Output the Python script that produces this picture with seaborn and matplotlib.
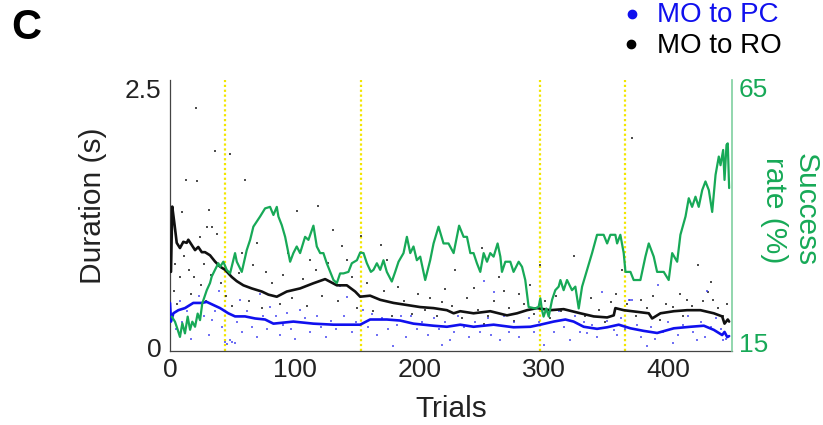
import matplotlib
matplotlib.use('Agg')
import matplotlib.pyplot as plt
import seaborn as sns
from matplotlib.lines import Line2D

sns.set_style('white')
plt.rcParams['font.family'] = ['Liberation Sans', 'DejaVu Sans']

# ---------------- data ----------------
xticks = [0, 100, 200, 300, 400]
left_ticks = [0, 2.5]
left_labels = ['0', '2.5']
right_ticks = [15, 65]
right_labels = ['15', '65']
yellow_t = [44, 153, 297, 365]

green_t = [1.4, 4.0, 6.2, 8.0, 9.9, 12.0, 14.2, 16.1, 17.9, 20.1,
           22.2, 24.1, 25.9, 29.5, 32.1, 33.5, 36.1, 38.8, 40.2, 42.8,
           45.5, 48.2, 50.8, 52.2, 53.6, 57.6, 61.6, 64.3, 66.9, 72.3,
           76.3, 80.3, 83.0, 85.7, 87.0, 89.7, 92.4, 96.4, 99.0, 101.7,
           104.4, 108.4, 111.1, 115.1, 117.8, 120.5, 123.1, 125.8, 131.2, 133.9,
           136.5, 139.2, 143.2, 145.9, 150.0, 152.6, 155.3, 158.0, 161.2, 163.3,
           166.0, 168.7, 171.3, 174.0, 178.0, 180.7, 183.4, 187.4, 190.1, 192.8,
           195.4, 198.1, 200.8, 204.8, 208.8, 211.5, 215.5, 219.5, 223.5, 227.6,
           232.0, 235.6, 238.3, 241.0, 243.6, 246.3, 249.0, 251.7, 254.4, 257.0,
           259.7, 262.9, 265.1, 266.4, 269.1, 273.1, 275.7, 279.8, 282.5, 285.1,
           287.8, 293.2, 295.8, 297.2, 298.5, 299.8, 302.0, 303.9, 306.6, 309.2,
           311.9, 313.3, 315.9, 318.6, 322.6, 325.3, 328.0, 330.7, 334.7, 338.7,
           342.7, 348.0, 350.8, 353.4, 357.4, 358.8, 361.4, 364.1, 365.5, 369.5,
           372.1, 377.5, 381.5, 384.2, 388.2, 390.9, 396.2, 400.2, 403.0, 407.0,
           409.6, 413.7, 416.3, 419.0, 421.7, 424.3, 427.1, 429.7, 432.4, 435.1,
           437.8, 440.4, 441.8, 443.9, 445.0, 446.6, 447.6, 448.7]
green_p = [20.0, 19.0, 17.4, 16.0, 18.7, 16.7, 20.0, 17.4, 19.0, 18.0,
           20.6, 19.3, 22.6, 25.2, 26.6, 27.9, 29.2, 30.5, 29.8, 30.8,
           29.2, 28.5, 31.1, 32.5, 30.8, 28.8, 33.1, 35.1, 37.7, 39.7,
           41.3, 41.6, 40.0, 41.6, 39.7, 38.0, 35.7, 30.8, 32.5, 33.8,
           32.5, 35.7, 35.1, 37.9, 33.8, 32.5, 32.5, 30.5, 27.2, 26.6,
           28.5, 28.5, 28.8, 30.5, 31.1, 32.6, 32.5, 30.5, 28.8, 29.2,
           30.5, 29.2, 31.1, 28.8, 26.9, 28.8, 30.8, 32.5, 35.7, 32.5,
           33.8, 31.1, 31.8, 27.2, 31.1, 34.4, 37.7, 34.4, 34.4, 32.5,
           37.9, 35.7, 35.7, 32.5, 32.5, 30.5, 28.8, 32.5, 30.8, 32.5,
           31.8, 34.4, 31.8, 28.8, 30.8, 30.8, 28.8, 30.8, 29.8, 27.2,
           21.9, 21.6, 21.9, 23.6, 21.3, 20.0, 21.6, 20.0, 23.3, 25.2,
           25.9, 27.2, 25.2, 27.2, 25.2, 25.9, 21.6, 25.9, 29.2, 32.5,
           36.1, 36.1, 34.4, 36.1, 36.1, 34.4, 36.1, 32.5, 28.8, 28.8,
           27.2, 27.2, 31.8, 34.4, 31.8, 28.8, 28.8, 27.2, 32.5, 30.8,
           36.1, 39.7, 43.3, 41.6, 43.6, 41.6, 44.9, 46.6, 44.9, 40.6,
           47.9, 51.5, 49.8, 52.8, 46.9, 53.8, 54.1, 45.3]

black_t = [0.8, 1.8, 3.5, 5.4, 8.0, 10.7, 13.4, 14.7, 17.4, 20.1,
           22.7, 25.5, 28.1, 32.1, 36.1, 40.2, 44.2, 49.6, 53.6, 58.9,
           65.6, 73.7, 79.0, 85.7, 93.7, 104.4, 115.1, 124.5, 133.9, 141.9,
           148.6, 152.6, 160.6, 168.7, 179.4, 190.1, 200.8, 211.5, 222.2, 227.6,
           232.9, 243.6, 257.0, 270.4, 278.5, 286.5, 294.5, 305.2, 315.9, 329.3,
           340.0, 350.8, 356.1, 357.4, 364.1, 377.5, 384.2, 386.9, 393.6, 404.3,
           415.0, 425.7, 436.4, 443.1, 445.0, 447.6, 448.7]
black_v = [0.73, 1.36, 1.20, 1.01, 0.96, 1.02, 1.01, 1.04, 0.99, 0.94,
           0.97, 0.92, 0.92, 0.89, 0.83, 0.78, 0.75, 0.68, 0.64, 0.60,
           0.57, 0.54, 0.51, 0.49, 0.54, 0.57, 0.62, 0.66, 0.60, 0.60,
           0.54, 0.49, 0.50, 0.46, 0.43, 0.41, 0.39, 0.38, 0.36, 0.33,
           0.35, 0.33, 0.35, 0.31, 0.33, 0.36, 0.38, 0.36, 0.37, 0.33,
           0.30, 0.29, 0.31, 0.38, 0.36, 0.34, 0.33, 0.28, 0.33, 0.35,
           0.36, 0.36, 0.33, 0.30, 0.23, 0.27, 0.25]

blue_t = [0.0, 0.8, 2.7, 6.7, 12.0, 18.7, 25.5, 29.5, 34.8, 40.2,
          46.8, 52.2, 60.2, 68.3, 76.3, 83.0, 99.0, 115.1, 131.2, 141.9,
          152.6, 160.6, 174.0, 184.7, 195.4, 211.5, 222.2, 232.9, 243.6, 259.7,
          275.7, 289.2, 297.2, 307.9, 317.3, 323.9, 332.0, 342.7, 350.8, 360.1,
          369.5, 380.2, 390.9, 404.3, 417.7, 428.4, 436.4, 443.1, 445.0, 447.2, 448.7]
blue_v = [0.43, 0.25, 0.33, 0.36, 0.38, 0.43, 0.43, 0.44, 0.41, 0.38,
          0.33, 0.30, 0.30, 0.28, 0.27, 0.23, 0.25, 0.23, 0.22, 0.22,
          0.22, 0.27, 0.27, 0.26, 0.23, 0.21, 0.20, 0.22, 0.20, 0.22,
          0.195, 0.20, 0.22, 0.25, 0.27, 0.25, 0.20, 0.18, 0.195, 0.22,
          0.185, 0.16, 0.14, 0.185, 0.20, 0.21, 0.17, 0.12, 0.15, 0.10, 0.11]

ro_t = [21, 36, 48, 13, 22, 60, 10, 31, 119, 102, 30, 34, 24, 38, 131, 153, 169, 174, 112, 70,
        95, 27, 221, 371, 324, 297, 424, 229, 250, 264, 434, 4, 8, 19, 58, 77, 142, 138, 244, 268,
        280, 289, 363, 432, 436, 415, 404, 319, 252, 3, 6, 11, 15, 17, 25, 29, 33, 41, 45,
        50, 55, 63, 67, 74, 82, 88, 91, 98, 107, 110, 117, 122, 127, 135, 146, 150, 158, 163, 172,
        178, 183, 188, 194, 199, 205, 209, 214, 218, 226, 234, 238, 247, 255, 260, 272, 276, 284, 292, 301,
        305, 310, 314, 328, 333, 338, 344, 349, 354, 358, 367, 374, 378, 383, 388, 393, 398, 409, 412, 419,
        428, 440, 444, 447]
ro_v = [2.31, 1.90, 1.87, 1.62, 1.61, 1.62, 1.31, 1.33, 1.37, 1.32, 1.16, 1.16, 1.07, 1.10, 1.13, 1.08, 0.99, 0.84, 0.84, 1.01,
        0.91, 0.81, 0.56, 2.02, 0.88, 0.80, 0.80, 0.75, 0.96, 0.68, 0.63, 0.81, 0.68, 0.68, 0.91, 0.73, 0.84, 0.98, 0.57, 0.55,
        0.52, 0.60, 0.75, 0.54, 0.46, 0.46, 0.39, 0.27, 0.23, 0.55, 0.42, 0.88, 0.75, 0.52, 0.60, 0.45, 0.70, 0.62, 0.50,
        0.40, 0.72, 0.45, 0.80, 0.38, 0.62, 0.42, 0.70, 0.48, 0.66, 0.40, 0.75, 0.50, 0.82, 0.45, 0.68, 0.38, 0.62, 0.35, 0.55,
        0.30, 0.58, 0.45, 0.32, 0.52, 0.36, 0.48, 0.30, 0.44, 0.40, 0.28, 0.48, 0.36, 0.30, 0.45, 0.38, 0.26, 0.42, 0.32, 0.45,
        0.28, 0.50, 0.35, 0.42, 0.30, 0.48, 0.36, 0.25, 0.44, 0.52, 0.42, 0.30, 0.46, 0.38, 0.50, 0.27, 0.42, 0.52, 0.30, 0.40,
        0.45, 0.38, 0.30, 0.42]

pc_t = [17, 44, 46, 48, 50, 52, 33.5, 56, 72, 80, 94, 104, 136.5, 142, 155, 179, 218, 185, 252, 260,
        347, 368, 369.5, 371, 392, 431, 225, 265, 300, 321, 383, 404, 423, 444, 335, 356, 440.5,
        2, 5, 8, 10, 14, 20, 23, 27, 31, 36, 39, 42, 54, 58, 62, 66, 70, 75, 78, 85,
        88, 91, 97, 100, 108, 112, 118, 121, 125, 129, 133, 140, 146, 149, 159, 162, 166, 170, 175, 182,
        189, 193, 198, 202, 207, 212, 216, 221, 228, 231, 236, 240, 245, 249, 255, 258, 263, 268, 272, 276,
        280, 284, 288, 292, 296, 304, 308, 312, 316, 325, 329, 332, 339, 343, 351, 359, 362, 365, 375, 378,
        386, 389, 396, 400, 408, 412, 416, 420, 426, 429, 434, 438, 442, 446]
pc_v = [0.08, 0.05, 0.03, 0.07, 0.05, 0.04, 0.27, 0.46, 0.52, 0.39, 0.33, 0.36, 0.59, 0.49, 0.36, 0.01, 0.02, 0.30, 0.64, 0.54,
        0.54, 0.46, 0.46, 0.46, 0.60, 0.55, 0.07, 0.07, 0.02, 0.07, 0.01, 0.04, 0.07, 0.07, 0.14, 0.17, 0.14,
        0.30, 0.18, 0.45, 0.25, 0.35, 0.22, 0.50, 0.30, 0.12, 0.35, 0.55, 0.20, 0.25, 0.15, 0.35, 0.20, 0.10, 0.30, 0.18, 0.30,
        0.12, 0.22, 0.18, 0.08, 0.28, 0.15, 0.30, 0.20, 0.10, 0.26, 0.18, 0.30, 0.15, 0.25, 0.20, 0.32, 0.12, 0.28, 0.18, 0.22,
        0.10, 0.30, 0.18, 0.25, 0.12, 0.28, 0.18, 0.25, 0.15, 0.30, 0.20, 0.10, 0.25, 0.15, 0.28, 0.12, 0.22, 0.30, 0.15, 0.25,
        0.10, 0.20, 0.28, 0.15, 0.25, 0.30, 0.15, 0.35, 0.20, 0.30, 0.15, 0.25, 0.22, 0.10, 0.26, 0.12, 0.28, 0.18, 0.22, 0.10,
        0.20, 0.08, 0.15, 0.25, 0.12, 0.22, 0.30, 0.15, 0.25, 0.10, 0.20, 0.28, 0.18, 0.08]

# ---------------- style ----------------
BLUE = '#1010ee'
BLACK = '#111111'
GREEN = '#17a957'
GREEN_SPINE = '#7fcfa0'
YEL = '#f2e600'
TXT = '#222222'
W, H = 823, 425

fig = plt.figure(figsize=(W / 100, H / 100), dpi=100)
ax = fig.add_axes([170 / W, 1 - 351 / H, 562 / W, 271 / H])
ax2 = ax.twinx()

sns.scatterplot(x=ro_t, y=ro_v, ax=ax, color='#222222', marker='s', s=4,
                linewidth=0, alpha=0.8, zorder=2)
sns.scatterplot(x=pc_t, y=pc_v, ax=ax, color='#3535f0', marker='s', s=4,
                linewidth=0, alpha=0.7, zorder=2)
for xv in yellow_t:
    ax.axvline(xv, color=YEL, lw=1.6, ls=(0, (1, 1.2)), zorder=1)
sns.lineplot(x=black_t, y=black_v, ax=ax, color=BLACK, lw=1.9,
             estimator=None, sort=False, zorder=3)
sns.lineplot(x=blue_t, y=blue_v, ax=ax, color=BLUE, lw=1.9,
             estimator=None, sort=False, zorder=3)
sns.lineplot(x=green_t, y=green_p, ax=ax2, color=GREEN, lw=1.6,
             estimator=None, sort=False)

ax.set_xlim(0, 451)
ax.set_ylim(-0.034, 2.582)
ax2.set_ylim(13.23, 66.57)

ax.set_xticks(xticks)
ax.set_xticklabels([str(v) for v in xticks])
ax.set_yticks(left_ticks)
ax.set_yticklabels(left_labels)
ax2.set_yticks(right_ticks)
ax2.set_yticklabels(right_labels)
ax.set_xlabel('')
ax.set_ylabel('')
ax2.set_ylabel('')

ax.tick_params(axis='x', direction='in', length=5, width=0.8, color='#444444',
               labelsize=19, labelcolor=TXT, pad=5)
ax.tick_params(axis='y', length=0, labelsize=19, labelcolor=TXT, pad=6)
ax2.tick_params(axis='y', length=0, labelsize=19, labelcolor=GREEN, pad=5)

for s in ['top', 'right']:
    ax.spines[s].set_visible(False)
for s in ['top', 'left', 'bottom']:
    ax2.spines[s].set_visible(False)
ax.spines['left'].set_color('#444444')
ax.spines['bottom'].set_color('#444444')
ax.spines['left'].set_linewidth(0.9)
ax.spines['bottom'].set_linewidth(0.9)
ax2.spines['right'].set_color(GREEN_SPINE)
ax2.spines['right'].set_linewidth(1.2)

# texts
fig.text(26 / W, 1 - 28 / H, 'C', fontsize=30, fontweight='bold',
         ha='center', va='center', color='black')
fig.text(93 / W, 1 - 206 / H, 'Duration (s)', rotation=90, fontsize=21.5,
         ha='center', va='center', color=TXT)
fig.text(451 / W, 1 - 409 / H, 'Trials', fontsize=21.5,
         ha='center', va='center', color=TXT)
fig.text(790 / W, 1 - 210 / H, 'Success\nrate (%)', rotation=270,
         fontsize=21.5, ha='center', va='center', multialignment='center',
         linespacing=1.15, color=GREEN)

# legend
fig.add_artist(Line2D([632 / W], [1 - 14 / H], marker='o', color=BLUE, ms=6,
                      ls='none', transform=fig.transFigure))
fig.add_artist(Line2D([631 / W], [1 - 44 / H], marker='o', color='black', ms=6,
                      ls='none', transform=fig.transFigure))
fig.text(657 / W, 1 - 22 / H, 'MO to PC', color=BLUE, fontsize=20,
         ha='left', va='baseline')
fig.text(657 / W, 1 - 53 / H, 'MO to RO', color='black', fontsize=20,
         ha='left', va='baseline')

fig.savefig('out.png', dpi=100)
